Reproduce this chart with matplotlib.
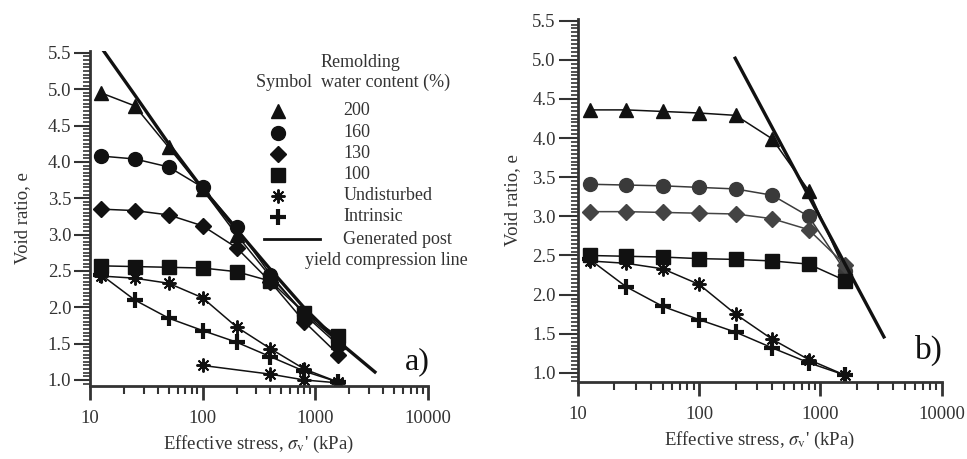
import numpy as np
import matplotlib.pyplot as plt
from matplotlib.ticker import MultipleLocator, LogLocator, NullFormatter, FixedLocator

plt.rcParams['font.family'] = ['Liberation Serif', 'DejaVu Serif']
plt.rcParams['mathtext.fontset'] = 'stix'

# Effective stress steps (kPa)
stress = [12.5, 25, 50, 100, 200, 400, 800, 1600]

# Panel a) void ratios
a_w200 = [4.95, 4.77, 4.20, 3.62, 3.00, 2.42, 1.92, 1.52]
a_w160 = [4.08, 4.04, 3.93, 3.65, 3.10, 2.45, 1.90, 1.48]
a_w130 = [3.35, 3.33, 3.27, 3.12, 2.82, 2.35, 1.80, 1.35]
a_w100 = [2.57, 2.56, 2.55, 2.54, 2.49, 2.36, 1.92, 1.60]
a_undist = [2.43, 2.40, 2.33, 2.13, 1.73, 1.43, 1.15, 0.97]
a_undist2_stress = [100, 400, 800, 1600]
a_undist2 = [1.20, 1.08, 1.00, 0.96]
a_intrinsic = [2.45, 2.10, 1.85, 1.68, 1.52, 1.32, 1.12, 0.97]
# generated post-yield compression line (curved in e-log scale)
a_line_x = [12.5, 25, 50, 100, 200, 400, 800, 1600, 3380]
a_line_e = [5.58, 4.92, 4.25, 3.63, 3.07, 2.52, 1.99, 1.53, 1.11]

# Panel b) void ratios
b_w200 = [4.36, 4.36, 4.34, 4.32, 4.29, 3.99, 3.33, 2.30]
b_w160 = [3.41, 3.40, 3.39, 3.37, 3.35, 3.27, 3.00, 2.30]
b_w130 = [3.06, 3.06, 3.05, 3.04, 3.03, 2.97, 2.83, 2.38]
b_w100 = [2.50, 2.49, 2.48, 2.46, 2.45, 2.43, 2.39, 2.18]
b_undist = [2.43, 2.40, 2.33, 2.13, 1.75, 1.43, 1.17, 0.97]
b_intrinsic = [2.45, 2.10, 1.85, 1.68, 1.52, 1.32, 1.13, 0.97]
b_line_x = [198, 3340]
b_line_e = [5.02, 1.46]

legend_labels = ['200', '160', '130', '100', 'Undisturbed', 'Intrinsic']

INK = '#111111'
GREY = '#333333'
ASTER = (8, 2, 0)

styles = {
    '200': dict(marker='^', ms=10, color=INK),
    '160': dict(marker='o', ms=10, color=INK),
    '130': dict(marker='D', ms=8, color=INK),
    '100': dict(marker='s', ms=10.5, color=INK),
    'Undisturbed': dict(marker=ASTER, ms=10, color=INK, mew=1.4),
    'Intrinsic': dict(marker='+', ms=12, color=INK, mew=3),
}


def draw_series(ax, x, y, key, color=None):
    st = dict(styles[key])
    if color is not None:
        st['color'] = color
    ax.plot(x, y, '-', lw=1.1, **st)


def style_axes(ax, ylim, fs, ylen, ypad):
    ax.set_xscale('log')
    ax.set_xlim(10, 10000)
    ax.set_ylim(*ylim)
    for s in ['top', 'right']:
        ax.spines[s].set_visible(False)
    for s in ['left', 'bottom']:
        ax.spines[s].set_linewidth(2)
        ax.spines[s].set_color(GREY)
    ax.xaxis.set_major_locator(FixedLocator([10, 100, 1000, 10000]))
    ax.xaxis.set_major_formatter(plt.FuncFormatter(lambda v, p: f'{int(v)}'))
    ax.xaxis.set_minor_locator(LogLocator(base=10, subs=np.arange(2, 10)))
    ax.xaxis.set_minor_formatter(NullFormatter())
    ax.yaxis.set_major_locator(MultipleLocator(0.5))
    ax.yaxis.set_minor_locator(MultipleLocator(0.05))
    ax.yaxis.set_major_formatter(plt.FuncFormatter(lambda v, p: f'{v:.1f}'))
    ax.tick_params(axis='x', which='major', direction='out', length=10, width=2,
                   color=GREY, labelsize=fs, labelcolor=GREY, pad=7)
    ax.tick_params(axis='x', which='minor', direction='out', length=6, width=1.5, color=GREY)
    ax.tick_params(axis='y', which='major', direction='out', length=ylen, width=1.5,
                   color=GREY, labelsize=fs, labelcolor=GREY, pad=2)
    ax.tick_params(axis='y', which='minor', direction='out', length=5, width=1.2, color=GREY)
    ax.set_xlabel("Effective stress, $\\sigma_{\\mathrm{v}}$' (kPa)", fontsize=fs,
                  color=GREY, labelpad=5)
    ax.set_ylabel('Void ratio, e', fontsize=fs, color=GREY, labelpad=ypad)
    ax.set_facecolor('none')


fig = plt.figure(figsize=(9.67, 4.59), dpi=100)
ax1 = fig.add_axes([0.093, 0.159, 0.3496, 0.7307])
ax2 = fig.add_axes([0.5977, 0.1678, 0.3761, 0.7906])

# ---- panel a)
style_axes(ax1, (0.917, 5.53), 13.5, 11.5, 12)
ax1.plot(a_line_x, a_line_e, '-', color=INK, lw=2.4, zorder=4)
for key, vals in zip(legend_labels[:4], [a_w200, a_w160, a_w130, a_w100]):
    draw_series(ax1, stress, vals, key)
draw_series(ax1, stress, a_undist, 'Undisturbed')
draw_series(ax1, a_undist2_stress, a_undist2, 'Undisturbed')
draw_series(ax1, stress, a_intrinsic, 'Intrinsic')
ax1.text(1.006, 0.072, 'a)', transform=ax1.transAxes, fontsize=23,
         ha='right', va='center', color=INK)

# legend block drawn in axes coordinates
LFS = 13
ax1.text(0.80, 0.965, 'Remolding', transform=ax1.transAxes, fontsize=LFS,
         ha='center', va='center', color=GREY)
ax1.text(0.49, 0.905, 'Symbol  water content (%)', transform=ax1.transAxes,
         fontsize=LFS, ha='left', va='center', color=GREY)
row_y = [0.82, 0.755, 0.692, 0.63, 0.567, 0.505]
for key, yy in zip(legend_labels, row_y):
    st = dict(styles[key])
    ax1.plot([0.555], [yy], transform=ax1.transAxes, ls='none', clip_on=False, **st)
    ax1.text(0.75, yy, key, transform=ax1.transAxes, fontsize=LFS,
             ha='left', va='center', color=GREY)
ax1.plot([0.515, 0.68], [0.437, 0.437], transform=ax1.transAxes, color=INK, lw=2)
ax1.text(0.75, 0.437, 'Generated post', transform=ax1.transAxes, fontsize=LFS,
         ha='left', va='center', color=GREY)
ax1.text(0.635, 0.375, 'yield compression line', transform=ax1.transAxes,
         fontsize=LFS, ha='left', va='center', color=GREY, clip_on=False)

# ---- panel b)
style_axes(ax2, (0.884, 5.52), 13.5, 14, 8)
ax2.plot(b_line_x, b_line_e, '-', color=INK, lw=2.4, zorder=4)
draw_series(ax2, stress, b_w200, '200')
draw_series(ax2, stress, b_w160, '160', color='#3a3a3a')
draw_series(ax2, stress, b_w130, '130', color='#444444')
draw_series(ax2, stress, b_w100, '100')
draw_series(ax2, stress, b_undist, 'Undisturbed')
draw_series(ax2, stress, b_intrinsic, 'Intrinsic')
ax2.text(1.003, 0.088, 'b)', transform=ax2.transAxes, fontsize=24,
         ha='right', va='center', color=INK)

fig.savefig('out.png', dpi=100)
